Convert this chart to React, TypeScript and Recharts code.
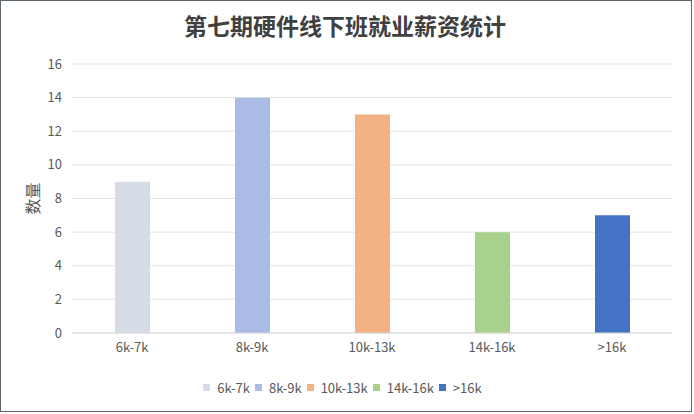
import { BarChart, Bar, XAxis, YAxis, CartesianGrid, Legend, Cell } from 'recharts'

const categories = ['6k-7k', '8k-9k', '10k-13k', '14k-16k', '>16k']
const counts = [9, 14, 13, 6, 7]
const colors = ['#d6dce5', '#aabce6', '#f4b183', '#a9d18e', '#4472c4']
const yTicks = [0, 2, 4, 6, 8, 10, 12, 14, 16]
const title = '第七期硬件线下班就业薪资统计'
const yLabel = '数量'

const data = categories.map((name, i) => ({ name, count: counts[i] }))

const FONT = '"Noto Sans CJK SC", "Noto Sans", sans-serif'
const TEXT = '#595959'

function SalaryLegend() {
  return (
    <div
      style={{
        display: 'flex',
        justifyContent: 'center',
        alignItems: 'center',
        height: 20,
        fontFamily: FONT,
        fontSize: 13,
        color: TEXT,
      }}
    >
      {categories.map((c, i) => (
        <span key={c} style={{ display: 'flex', alignItems: 'center', marginRight: 5 }}>
          <span style={{ width: 7, height: 7, background: colors[i], marginRight: 7 }} />
          {c}
        </span>
      ))}
    </div>
  )
}

export default function App() {
  return (
    <div style={{ position: 'absolute', top: 0, left: 0, width: 694, height: 414, background: '#fff' }}>
      {/* frame */}
      <div
        style={{
          position: 'absolute',
          top: 0,
          left: 0,
          width: 690,
          height: 410,
          border: '1px solid #5c666e',
          pointerEvents: 'none',
          zIndex: 2,
        }}
      />
      <div
        style={{
          position: 'absolute',
          top: 10,
          left: 0,
          width: 690,
          textAlign: 'center',
          fontFamily: FONT,
          fontSize: 23,
          fontWeight: 700,
          letterSpacing: 0,
          color: '#404040',
          lineHeight: '30px',
          zIndex: 1,
        }}
      >
        {title}
      </div>
      <BarChart
        width={694}
        height={414}
        data={data}
        margin={{ top: 64, right: 22, left: 20, bottom: 31 }}
      >
        <CartesianGrid vertical={false} stroke="#e3e3e3" />
        <XAxis
          dataKey="name"
          height={30}
          tickLine={false}
          tickSize={0}
          tickMargin={10}
          axisLine={{ stroke: '#d9d9d9' }}
          tick={{ fontSize: 13, fill: TEXT, fontFamily: FONT }}
        />
        <YAxis
          width={52}
          domain={[0, 16]}
          ticks={yTicks}
          interval={0}
          axisLine={false}
          tickLine={false}
          tickSize={0}
          tickMargin={10}
          tick={{ fontSize: 13, fill: TEXT, fontFamily: FONT }}
          label={{
            value: yLabel,
            angle: -90,
            position: 'insideLeft',
            offset: 13,
            style: { textAnchor: 'middle', fill: TEXT, fontSize: 16, fontFamily: FONT },
          }}
        />
        <Legend
          verticalAlign="bottom"
          content={() => <SalaryLegend />}
          wrapperStyle={{ top: 377, bottom: 'auto', left: 0, width: 690, height: 20 }}
        />
        <Bar dataKey="count" barSize={35} isAnimationActive={false}>
          {data.map((d, i) => (
            <Cell key={d.name} fill={colors[i]} />
          ))}
        </Bar>
      </BarChart>
    </div>
  )
}
